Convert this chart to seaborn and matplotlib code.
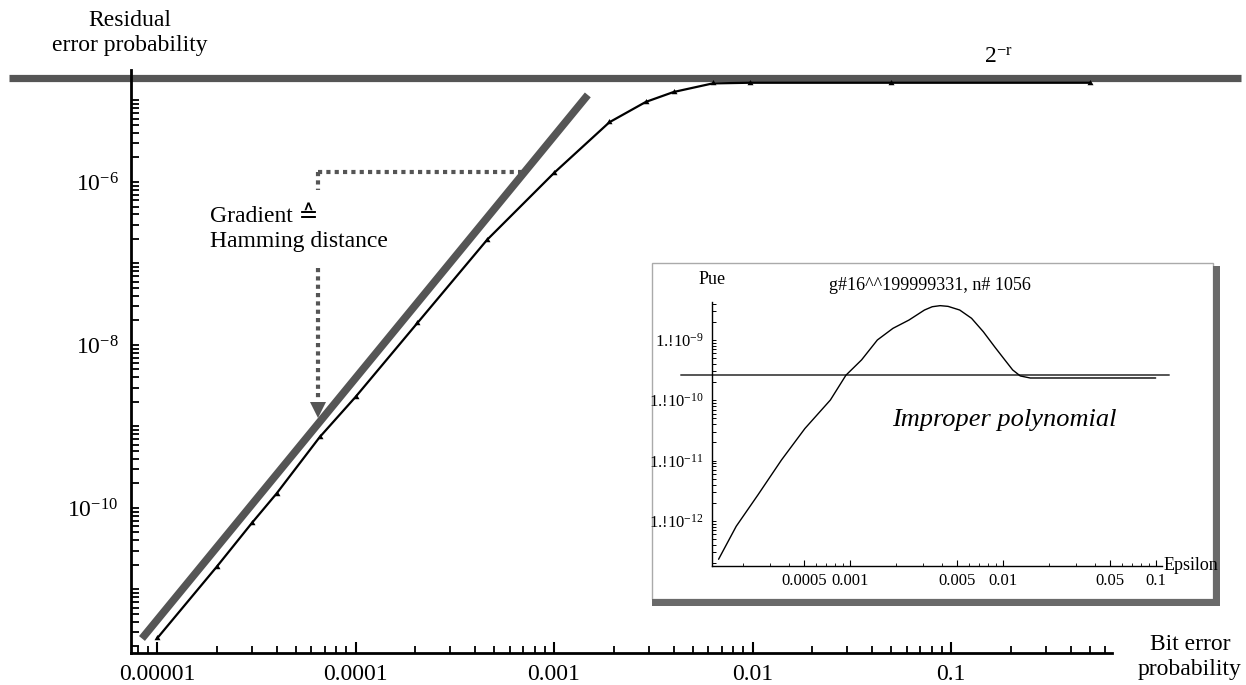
import numpy as np
import pandas as pd
import matplotlib
matplotlib.use("Agg")
import matplotlib.pyplot as plt
import matplotlib.ticker as mticker
from matplotlib.patches import Rectangle
import seaborn as sns

# ---------------- data ----------------
# main curve: residual error probability vs bit error probability
ber = [1e-5, 2e-5, 3e-5, 4e-5, 6.6e-5, 1e-4, 2.05e-4, 4.6e-4, 1e-3, 1.9e-3,
       2.9e-3, 4e-3, 6.3e-3, 9.7e-3, 0.05, 0.5]
pue = [2.5e-12, 1.9e-11, 6.5e-11, 1.5e-10, 7.4e-10, 2.3e-9, 1.86e-8, 1.95e-7,
       1.29e-6, 5.4e-6, 9.6e-6, 1.27e-5, 1.62e-5, 1.65e-5, 1.65e-5, 1.65e-5]
# asymptote line (gradient = Hamming distance)
ham_x = [8.4e-6, 1.48e-3]
ham_y = [2.5e-12, 1.17e-5]
# 2^-r level
level_2r = 1.89e-5
level_x = [1.8e-6, 2.9]

# inset: improper polynomial
eps = [1.38e-4, 1.8e-4, 2.5e-4, 3.56e-4, 5.07e-4, 7.44e-4, 9.4e-4, 1.19e-3,
       1.51e-3, 1.91e-3, 2.43e-3, 3.07e-3, 3.45e-3, 3.89e-3, 4.38e-3, 5.22e-3,
       6.24e-3, 7.45e-3, 8.89e-3, 1.03e-2, 1.16e-2, 1.3e-2, 1.51e-2, 0.1]
pue_in = [2.3e-13, 8.1e-13, 2.7e-12, 1.02e-11, 3.4e-11, 1.01e-10, 2.6e-10, 4.67e-10,
          1e-9, 1.56e-9, 2.14e-9, 3.14e-9, 3.56e-9, 3.71e-9, 3.61e-9, 3.14e-9,
          2.29e-9, 1.37e-9, 7.55e-10, 4.67e-10, 3.18e-10, 2.53e-10, 2.34e-10, 2.34e-10]
inset_level = 2.6e-10
inset_level_x = [7.8e-5, 0.123]

main_xticks = [1e-5, 1e-4, 1e-3, 1e-2, 1e-1]
main_xticklabels = ["0.00001", "0.0001", "0.001", "0.01", "0.1"]
main_ytick_labeled = [1e-6, 1e-8, 1e-10]
main_yticklabels = ["$10^{-6}$", "$10^{-8}$", "$10^{-10}$"]
inset_xticks = [5e-4, 1e-3, 5e-3, 1e-2, 5e-2, 1e-1]
inset_xticklabels = ["0.0005", "0.001", "0.005", "0.01", "0.05", "0.1"]
inset_yticks = [1e-12, 1e-11, 1e-10, 1e-9]
inset_yticklabels = ["1.!10$^{-12}$", "1.!10$^{-11}$", "1.!10$^{-10}$", "1.!10$^{-9}$"]

# ---------------- style ----------------
sns.set_theme(style="white")
plt.rcParams["font.family"] = ["Liberation Serif", "DejaVu Serif", "DejaVu Sans"]
plt.rcParams["mathtext.fontset"] = "custom"
plt.rcParams["mathtext.rm"] = "Liberation Serif"
plt.rcParams["mathtext.it"] = "Liberation Serif:italic"
plt.rcParams["mathtext.bf"] = "Liberation Serif:bold"
plt.rcParams["text.color"] = "black"
plt.rcParams["xtick.color"] = "black"
plt.rcParams["ytick.color"] = "black"
plt.rcParams["xtick.bottom"] = True
plt.rcParams["ytick.left"] = True
plt.rcParams["xtick.direction"] = "in"
plt.rcParams["ytick.direction"] = "in"

W, H = 1246, 685
fig = plt.figure(figsize=(W / 100, H / 100), dpi=100)
fig.patch.set_facecolor("white")


def fx(px):
    return px / W


def fy(py):
    return 1 - py / H


def log_ticks(k0, k1, subs):
    return [m * 10.0 ** k for k in range(k0, k1) for m in subs]


def label_or_blank(labeled, fmt):
    def f(v, p):
        for t, s in zip(labeled, fmt):
            if abs(v / t - 1) < 1e-6:
                return s
        return ""
    return mticker.FuncFormatter(f)


GRAY = "#555555"

# ---------------- main axes ----------------
ax = fig.add_axes([fx(131), fy(653), fx(1112) - fx(131), fy(70) - fy(653)])
ax.set_facecolor("none")
ax.set_zorder(0)
ax.set_xscale("log")
ax.set_yscale("log")

sns.lineplot(x=level_x, y=[level_2r, level_2r], ax=ax, color=GRAY, lw=5.2,
             clip_on=False, legend=False, solid_capstyle="butt")
sns.lineplot(x=ham_x, y=ham_y, ax=ax, color=GRAY, lw=5.5, legend=False,
             solid_capstyle="butt", sort=False, estimator=None)
sns.lineplot(x=ber, y=pue, ax=ax, color="black", lw=1.6, legend=False,
             sort=False, estimator=None, marker=(3, 0, 0), markersize=5,
             markeredgewidth=0)

# dotted annotation
dot = dict(color=GRAY, lw=3.0, linestyle=(0, (1, 1)), dash_capstyle="butt")
ax.plot([6.47e-5, 7.14e-4], [1.33e-6, 1.33e-6], **dot)
ax.plot([6.47e-5, 6.47e-5], [1.33e-6, 7.98e-7], **dot)
ax.plot([6.47e-5, 6.47e-5], [8.8e-8, 2.1e-9], **dot)
ax.plot([6.47e-5], [1.6e-9], marker="v", color=GRAY, markersize=11, markeredgewidth=0)

ax.set_xlim(10 ** -5.131, 10 ** -0.189)
ax.set_ylim(10 ** -11.78, 10 ** -4.626)

for s in ["top", "right"]:
    ax.spines[s].set_visible(False)
for s in ["left", "bottom"]:
    ax.spines[s].set_color("black")
    ax.spines[s].set_linewidth(2)

ax.xaxis.set_major_locator(mticker.FixedLocator(main_xticks))
ax.xaxis.set_major_formatter(mticker.FixedFormatter(main_xticklabels))
ax.xaxis.set_minor_locator(mticker.FixedLocator(log_ticks(-6, 1, range(2, 10))))
ax.xaxis.set_minor_formatter(mticker.NullFormatter())
# all y ticks as one set; only some decades labelled
ax.yaxis.set_major_locator(mticker.FixedLocator(log_ticks(-12, -4, range(1, 10))))
ax.yaxis.set_major_formatter(label_or_blank(main_ytick_labeled, main_yticklabels))
ax.yaxis.set_minor_locator(mticker.NullLocator())
ax.tick_params(axis="x", which="major", bottom=True, direction="in", length=8, width=1.5,
               labelsize=17, colors="black", pad=8)
ax.tick_params(axis="x", which="minor", bottom=True, direction="in", length=5, width=1.3,
               colors="black")
ax.tick_params(axis="y", which="major", left=True, direction="in", length=6, width=1.3,
               labelsize=17, colors="black", pad=9)

# labels
fig.text(fx(130), fy(33), "Residual\nerror probability", ha="center", va="center",
         fontsize=17, linespacing=1.25)
fig.text(fx(1190), fy(657), "Bit error\nprobability", ha="center", va="center",
         fontsize=17, linespacing=1.25)
fig.text(fx(998), fy(57), "2$^{-\\mathrm{r}}$", ha="center", va="center", fontsize=17)
fig.text(fx(210), fy(229), "Gradient \u2259\nHamming distance", ha="left", va="center",
         fontsize=17, linespacing=1.3)

# ---------------- inset frame ----------------
fig.patches.append(Rectangle((fx(652), fy(599)), fx(1213) - fx(652), fy(263) - fy(599),
                             transform=fig.transFigure, figure=fig, facecolor="white",
                             edgecolor="#aaaaaa", lw=1.0, zorder=1))
fig.patches.append(Rectangle((fx(1213), fy(606)), fx(1220) - fx(1213), fy(266) - fy(606),
                             transform=fig.transFigure, figure=fig, facecolor="#6a6a6a",
                             edgecolor="none", zorder=1))
fig.patches.append(Rectangle((fx(652), fy(606)), fx(1220) - fx(652), fy(599) - fy(606),
                             transform=fig.transFigure, figure=fig, facecolor="#6a6a6a",
                             edgecolor="none", zorder=1))

# ---------------- inset axes ----------------
ax2 = fig.add_axes([fx(712), fy(566), fx(1162) - fx(712), fy(302) - fy(566)])
ax2.set_zorder(2)
ax2.set_facecolor("none")
ax2.set_xscale("log")
ax2.set_yscale("log")

sns.lineplot(x=inset_level_x, y=[inset_level, inset_level], ax=ax2, color=GRAY,
             lw=1.4, clip_on=False, legend=False)
sns.lineplot(x=eps, y=pue_in, ax=ax2, color="black", lw=1.0, legend=False,
             sort=False, estimator=None)
ax2.set_xlim(1.25e-4, 0.11)
ax2.set_ylim(10 ** -12.75, 10 ** -8.37)

for s in ["top", "right"]:
    ax2.spines[s].set_visible(False)
for s in ["left", "bottom"]:
    ax2.spines[s].set_color("black")
    ax2.spines[s].set_linewidth(1.0)
ax2.xaxis.set_major_locator(mticker.FixedLocator(inset_xticks))
ax2.xaxis.set_major_formatter(mticker.FixedFormatter(inset_xticklabels))
ax2.xaxis.set_minor_locator(mticker.FixedLocator(log_ticks(-4, 0, [1, 2, 3, 4, 6, 7, 8, 9])))
ax2.xaxis.set_minor_formatter(mticker.NullFormatter())
ax2.yaxis.set_major_locator(mticker.FixedLocator(log_ticks(-13, -8, range(1, 10))))
ax2.yaxis.set_major_formatter(label_or_blank(inset_yticks, inset_yticklabels))
ax2.yaxis.set_minor_locator(mticker.NullLocator())
ax2.tick_params(axis="x", which="major", bottom=True, direction="in", length=4, width=0.8,
                labelsize=12, colors="black", pad=5)
ax2.tick_params(axis="x", which="minor", bottom=True, direction="in", length=2.5, width=0.6,
                colors="black")
ax2.tick_params(axis="y", which="major", left=True, direction="in", length=3, width=0.7,
                labelsize=12, colors="black", pad=6)

fig.text(fx(712), fy(280), "Pue", ha="center", va="center", fontsize=13)
fig.text(fx(930), fy(285), "g#16^^199999331, n# 1056", ha="center", va="center", fontsize=13)
fig.text(fx(1164), fy(566), "Epsilon", ha="left", va="center", fontsize=13)
fig.text(fx(1004), fy(420), "Improper polynomial", ha="center", va="center",
         fontsize=19, style="italic")

fig.savefig("out.png", dpi=100)
